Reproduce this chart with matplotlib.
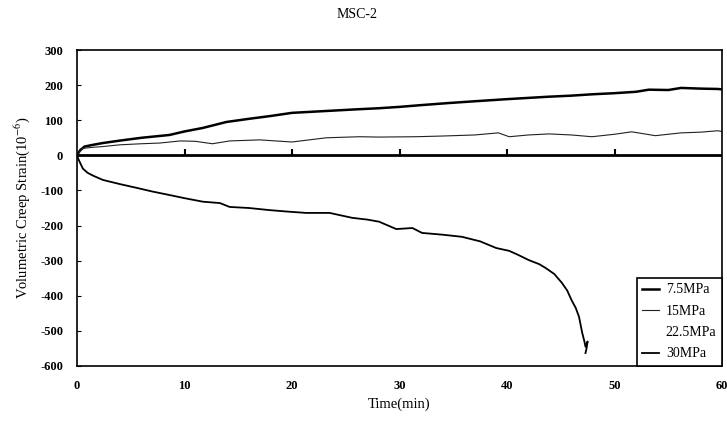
import matplotlib
matplotlib.use("Agg")
import matplotlib.pyplot as plt

plt.rcParams['font.family'] = ['Liberation Serif', 'DejaVu Serif']
plt.rcParams['mathtext.fontset'] = 'stix'
plt.rcParams['axes.unicode_minus'] = False

# 7.5MPa
t_75 = [0, 0.3, 0.7, 1.5, 2.4, 4, 6, 8.6, 10, 11.7, 13.9, 16, 18, 20, 23, 26,
        28, 30, 32, 34.6, 37, 40, 43.9, 46, 48, 50, 52, 53.2, 55, 56.2, 58, 59.6, 60]
s_75 = [0, 15, 25, 30, 35, 42, 50, 58, 68, 78, 95, 104, 112, 121, 126, 131,
        134, 138, 143, 149, 154, 160, 167, 170, 174, 177, 181, 187, 186, 192, 190, 189, 188]

# 15MPa
t_15 = [0, 0.3, 0.6, 1.5, 2.4, 4, 6, 7.7, 9.6, 11, 12.6, 14.2, 17, 20, 23.2, 26.3,
        28, 31.5, 34, 37, 39.2, 40.2, 42, 43.9, 46, 47.9, 50, 51.6, 53.8, 56.2, 58, 59.6, 60]
s_15 = [0, 12, 20, 23, 25, 30, 33, 35, 41, 40, 33, 41, 44, 38, 50, 53,
        52, 53, 55, 58, 64, 53, 58, 61, 58, 53, 60, 67, 56, 64, 66, 70, 68]

# 22.5MPa (not visible in the chart)
t_225 = []
s_225 = []

# 30MPa
t_30 = [0, 0.15, 0.3, 0.55, 1, 1.5, 2.4, 4, 5.6, 7, 8.6, 10, 11.7, 13.3, 14.2, 16,
        17.9, 19.5, 21.3, 23.5, 25.6, 27, 28.1, 29.7, 31.2, 32.1, 34, 35.8, 37.5, 39,
        40.2, 41, 42, 43, 43.6, 44.4, 45.1, 45.6, 46, 46.4, 46.7, 47, 47.2, 47.3, 47.5,
        47.4, 47.3]
s_30 = [0, -12, -22, -38, -50, -58, -70, -82, -93, -103, -113, -122, -132, -136, -147, -150,
        -156, -160, -164, -164, -178, -183, -189, -210, -207, -221, -226, -232, -245, -264,
        -272, -283, -298, -310, -321, -338, -363, -385, -412, -435, -460, -506, -530, -545, -530,
        -550, -563]

fig = plt.figure(figsize=(7.27, 4.29), dpi=100)
ax = fig.add_axes([77 / 727, 63 / 429, 645 / 727, 316 / 429])

ax.plot(t_75, s_75, color='black', lw=1.8, label='7.5MPa')
ax.plot(t_15, s_15, color='#222222', lw=0.8, label='15MPa')
ax.plot(t_225, s_225, color='white', lw=1.0, label='22.5MPa')
ax.plot(t_30, s_30, color='black', lw=1.3, label='30MPa')

ax.set_xlim(0, 60)
ax.set_ylim(-600, 300)
ax.set_xticks(range(0, 61, 10))
ax.set_yticks(range(-600, 301, 100))

for sp in ax.spines.values():
    sp.set_linewidth(1.2)
ax.tick_params(axis='x', length=0, pad=10, labelsize=9)
ax.tick_params(axis='y', direction='in', length=3, pad=10, labelsize=9)
for lab in ax.get_xticklabels() + ax.get_yticklabels():
    lab.set_fontweight('bold')

# zero line with upward ticks
ax.axhline(0, color='black', lw=2)
y0, y1 = ax.get_ylim()
sec = ax.secondary_xaxis((0 - y0) / (y1 - y0))
sec.set_xticks(range(10, 60, 10))
for sp in sec.spines.values():
    sp.set_visible(False)
sec.tick_params(direction='out', length=4, width=1.5,
                labeltop=False, labelbottom=False)

ax.set_xlabel('Time(min)', fontsize=10.5, labelpad=4)
ax.set_ylabel('Volumetric Creep Strain(10$^{-6}$)', fontsize=10.5, labelpad=6)
fig.text(357 / 727, 1 - 14 / 429, 'MSC-2', ha='center', va='center', fontsize=10)

leg = ax.legend(loc='lower right', borderaxespad=0, fontsize=10, handlelength=1.2,
                handletextpad=0.5, labelspacing=0.6, fancybox=False, framealpha=1)
leg.get_frame().set_edgecolor('black')
leg.get_frame().set_linewidth(1.2)

fig.savefig('out.png', dpi=100)
